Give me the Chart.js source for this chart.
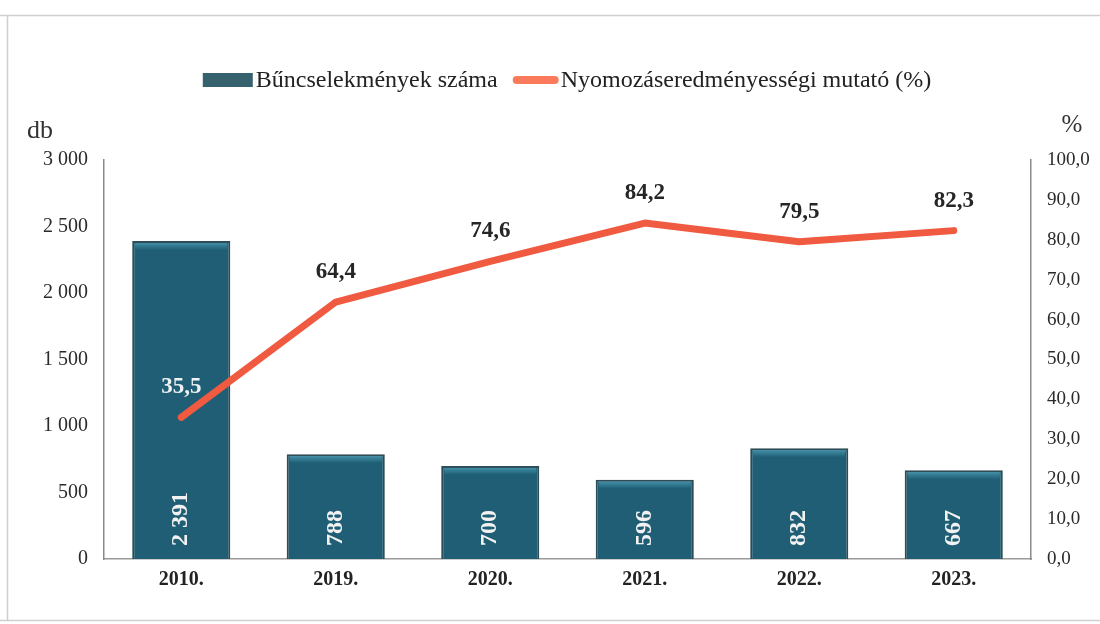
<!DOCTYPE html>
<html><head><meta charset="utf-8">
<script src="https://cdn.jsdelivr.net/npm/chart.js@4.4.1/dist/chart.umd.min.js"></script>
<style>html,body{margin:0;padding:0;background:#fff}#wrap{width:1100px;height:624px;position:relative}</style>
</head><body><div id="wrap"><canvas id="c" width="1100" height="624"></canvas></div>
<script>
const categories = ['2010.', '2019.', '2020.', '2021.', '2022.', '2023.'];
const crimeCounts = [2391, 788, 700, 596, 832, 667];
const clearanceRates = [35.5, 64.4, 74.6, 84.2, 79.5, 82.3];
const leftTickValues = [0, 500, 1000, 1500, 2000, 2500, 3000];
const rightTickValues = [0, 10, 20, 30, 40, 50, 60, 70, 80, 90, 100];
const seriesNames = ['Bűncselekmények száma', 'Nyomozáseredményességi mutató (%)'];
const axisUnits = ['db', '%'];

const SERIF = '"Liberation Serif", "Times New Roman", serif';
const BAR_COLOR = '#1f5e74';
const BAR_BORDER = '#2d4c56';
const LINE_COLOR = '#f05a40';

function fmtThousands(v) {
  return String(v).replace(/\B(?=(\d{3})+(?!\d))/g, ' ');
}
function fmtPct(v) { return Number(v).toFixed(1).replace('.', ','); }

const framePlugin = {
  id: 'frame',
  beforeDraw(chart) {
    const ctx = chart.ctx;
    ctx.save();
    ctx.fillStyle = '#fff';
    ctx.fillRect(0, 0, chart.width, chart.height);
    ctx.strokeStyle = '#cfcfcf';
    ctx.lineWidth = 1.5;
    ctx.beginPath();
    ctx.moveTo(0, 15.5); ctx.lineTo(chart.width, 15.5);
    ctx.moveTo(7.5, 15); ctx.lineTo(7.5, 621);
    ctx.moveTo(0, 620.5); ctx.lineTo(chart.width, 620.5);
    ctx.stroke();
    ctx.restore();
  }
};

const legendPlugin = {
  id: 'customLegend',
  afterDraw(chart) {
    const ctx = chart.ctx;
    ctx.save();
    ctx.font = '24px ' + SERIF;
    ctx.textBaseline = 'middle';
    const w0 = ctx.measureText(seriesNames[0]).width;
    const w1 = ctx.measureText(seriesNames[1]).width;
    const total = 50 + 3 + w0 + 15 + 46 + 2 + w1;
    let x = 567 - total / 2;
    const cy = 80;
    ctx.fillStyle = '#36616e';
    ctx.fillRect(x, cy - 7, 50, 14);
    x += 53;
    ctx.fillStyle = '#222';
    ctx.fillText(seriesNames[0], x, cy + 1);
    x += w0 + 15;
    ctx.fillStyle = '#f97b5b';
    ctx.beginPath();
    if (ctx.roundRect) ctx.roundRect(x, cy - 4, 46, 8, 4); else ctx.rect(x, cy - 4, 46, 8);
    ctx.fill();
    x += 48;
    ctx.fillStyle = '#222';
    ctx.fillText(seriesNames[1], x, cy + 1);
    // axis unit labels
    ctx.font = '26px ' + SERIF;
    ctx.fillStyle = '#333';
    ctx.textAlign = 'left';
    ctx.fillText(axisUnits[0], 27, 131);
    ctx.font = '25px ' + SERIF;
    ctx.textAlign = 'center';
    ctx.fillText(axisUnits[1], 1072, 125);
    ctx.restore();
  }
};

const labelsPlugin = {
  id: 'valueLabels',
  afterDatasetsDraw(chart) {
    const ctx = chart.ctx;
    const barMeta = chart.getDatasetMeta(1);
    const lineMeta = chart.getDatasetMeta(0);
    ctx.save();
    // bevel highlight on bars
    barMeta.data.forEach(el => {
      const p = el.getProps(['x', 'y', 'base', 'width'], true);
      const l = p.x - p.width / 2 + 3, r = p.x + p.width / 2 - 3;
      const g = ctx.createLinearGradient(0, p.y + 2, 0, p.y + 9);
      g.addColorStop(0, 'rgba(70,150,175,0.85)');
      g.addColorStop(1, 'rgba(70,150,175,0)');
      ctx.fillStyle = g;
      ctx.fillRect(l, p.y + 2, r - l, 7);
    });
    // bar value labels (rotated)
    ctx.font = 'bold 24px ' + SERIF;
    ctx.fillStyle = '#f2f2f2';
    ctx.textBaseline = 'middle';
    ctx.textAlign = 'left';
    barMeta.data.forEach((el, i) => {
      const p = el.getProps(['x', 'base'], true);
      ctx.save();
      ctx.translate(p.x, p.base - 13);
      ctx.rotate(-Math.PI / 2);
      ctx.fillText(fmtThousands(crimeCounts[i]), 0, 0);
      ctx.restore();
    });
    // line value labels
    ctx.font = 'bold 23px ' + SERIF;
    ctx.textAlign = 'center';
    lineMeta.data.forEach((pt, i) => {
      const p = pt.getProps(['x', 'y'], true);
      const ly = p.y - 30;
      const bar = barMeta.data[i].getProps(['y'], true);
      ctx.fillStyle = ly > bar.y ? '#eef2f4' : '#262626';
      ctx.fillText(fmtPct(clearanceRates[i]), p.x, ly);
    });
    ctx.restore();
  }
};

new Chart(document.getElementById('c'), {
  data: {
    labels: categories,
    datasets: [
      {
        type: 'line',
        label: seriesNames[1],
        data: clearanceRates,
        yAxisID: 'y1',
        borderColor: LINE_COLOR,
        backgroundColor: LINE_COLOR,
        borderWidth: 7,
        borderCapStyle: 'round',
        borderJoinStyle: 'round',
        pointRadius: 0,
        tension: 0,
        order: 0
      },
      {
        type: 'bar',
        label: seriesNames[0],
        data: crimeCounts,
        yAxisID: 'y',
        backgroundColor: BAR_COLOR,
        borderColor: BAR_BORDER,
        borderWidth: 2,
        categoryPercentage: 1,
        barPercentage: 0.635,
        order: 1
      }
    ]
  },
  options: {
    responsive: false,
    animation: false,
    devicePixelRatio: 1,
    layout: { padding: { top: 160, left: 34, right: 0, bottom: 0 } },
    plugins: { legend: { display: false }, tooltip: { enabled: false }, title: { display: false } },
    scales: {
      x: {
        grid: { display: false },
        border: { display: true, color: '#9a9a9a', width: 1.5 },
        ticks: { color: '#222', font: { family: SERIF, size: 20, weight: 'bold' }, padding: 1 },
        afterFit(s) { s.height = 65; }
      },
      y: {
        position: 'left',
        min: 0, max: 3000,
        afterBuildTicks(s) { s.ticks = leftTickValues.map(v => ({ value: v })); },
        grid: { display: false },
        border: { display: true, color: '#8a8a8a', width: 1.5 },
        ticks: { color: '#2a2a2a', font: { family: SERIF, size: 20 }, padding: 8, callback: v => fmtThousands(v) },
        afterFit(s) { s.width = 70; }
      },
      y1: {
        position: 'right',
        min: 0, max: 100,
        afterBuildTicks(s) { s.ticks = rightTickValues.map(v => ({ value: v })); },
        grid: { display: false },
        border: { display: true, color: '#8a8a8a', width: 1.5 },
        ticks: { color: '#2a2a2a', font: { family: SERIF, size: 19 }, padding: 8, callback: v => fmtPct(v) },
        afterFit(s) { s.width = 69; }
      }
    }
  },
  plugins: [framePlugin, legendPlugin, labelsPlugin]
});
</script>
</body></html>
